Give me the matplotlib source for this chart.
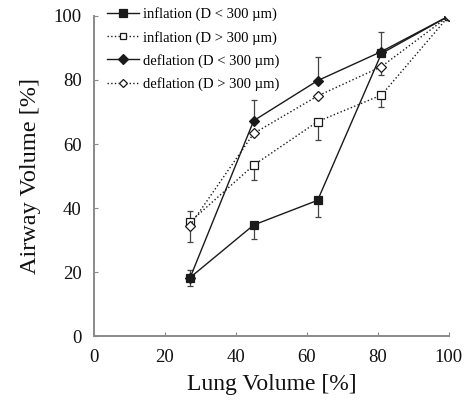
import matplotlib
matplotlib.use("Agg")
import matplotlib.pyplot as plt
from matplotlib.lines import Line2D

plt.rcParams['font.family'] = ['Liberation Serif', 'DejaVu Serif']

# Lung volume steps [%]
lung_volume = [27, 45, 63, 81, 100]

# Airway volume [%] per series
infl_small = [18.2, 34.7, 42.4, 88.3, 100]
infl_large = [35.6, 53.4, 67.0, 75.3, 100]
defl_small = [18.0, 67.3, 79.8, 88.9, 100]
defl_large = [34.5, 63.3, 75.0, 84.2, 100]

# Error bars (lower, upper)
infl_small_err = ([0.0, 4.5, 5.1, 0.0, 0.0], [2.4, 0.0, 0.0, 0.0, 0.0])
infl_large_err = ([6.3, 4.7, 5.8, 3.6, 0.0], [0.0, 0.0, 0.0, 0.0, 0.0])
defl_small_err = ([2.4, 0.0, 0.0, 0.0, 0.0], [0.0, 6.5, 7.3, 6.1, 0.0])
defl_large_err = ([0.0, 0.0, 0.0, 2.6, 0.0], [4.7, 0.0, 0.0, 0.0, 0.0])

labels = ["inflation (D < 300 \u00b5m)", "inflation (D > 300 \u00b5m)",
          "deflation (D < 300 \u00b5m)", "deflation (D > 300 \u00b5m)"]

fig = plt.figure(figsize=(4.71, 4.07), dpi=100)
ax = fig.add_axes([0.1996, 0.1744, 0.7535, 0.7863])

line_c = '#1a1a1a'
err_kw = dict(ecolor='#444444', elinewidth=0.9, capsize=2.5, capthick=0.9)

series = [
    (infl_small, infl_small_err, 's', line_c, '-', labels[0]),
    (infl_large, infl_large_err, 's', 'white', ':', labels[1]),
    (defl_small, defl_small_err, 'D', line_c, '-', labels[2]),
    (defl_large, defl_large_err, 'D', 'white', ':', labels[3]),
]

handles = []
for y, err, mk, fc, ls, lab in series:
    ms = 6.0 if mk == 's' else 5.5
    if fc == 'white':
        ms = 5.5 if mk == 's' else 5.0
    ax.errorbar(lung_volume, y, yerr=[err[0], err[1]], fmt=mk, linestyle=ls,
                color=line_c, mfc=fc, mec=line_c, mew=0.9, ms=ms,
                lw=1.0, zorder=3, **err_kw)
    handles.append(Line2D([], [], color=line_c, linestyle=ls, lw=1.0,
                          marker=mk, mfc=fc, mec=line_c, mew=0.9,
                          ms=ms - 0.5, label=lab))

ax.set_xlim(0, 100)
ax.set_ylim(0, 100)
ax.set_xticks([0, 20, 40, 60, 80, 100])
ax.set_yticks([0, 20, 40, 60, 80, 100])

for s in ['top', 'right']:
    ax.spines[s].set_visible(False)
for s in ['left', 'bottom']:
    ax.spines[s].set_color('#8a8a8a')
    ax.spines[s].set_linewidth(1.4)

ax.tick_params(direction='in', length=3, width=0.8, color='#8a8a8a',
               labelsize=13.5, pad=9, labelcolor='#111111')

ax.set_xlabel("Lung Volume [%]", fontsize=17, labelpad=6, color='#111111')
ax.set_ylabel("Airway Volume [%]", fontsize=17.5, labelpad=9, color='#111111')

ax.legend(handles=handles, loc='upper left',
          bbox_to_anchor=(0.02, 1.045), frameon=False, fontsize=10.5,
          handlelength=2.2, handletextpad=0.3, labelspacing=0.63,
          borderaxespad=0.0)

fig.savefig("out.png", dpi=100)
